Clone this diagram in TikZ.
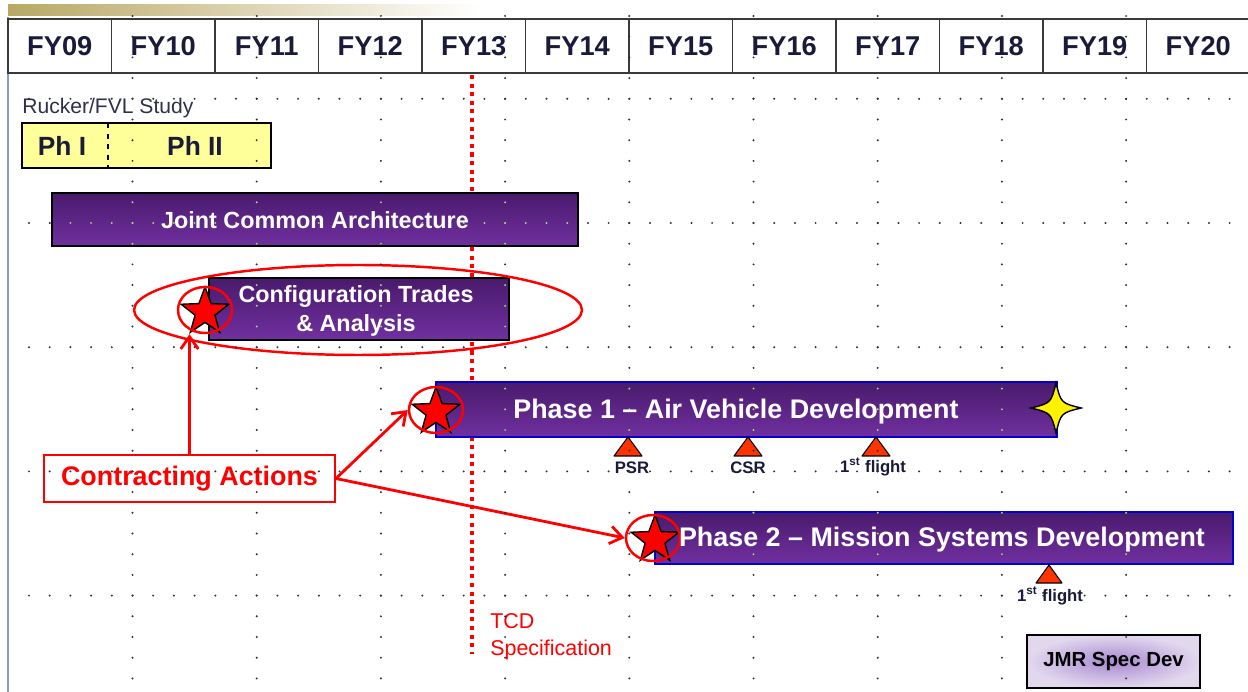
\documentclass[tikz,border=0pt]{standalone}
\usepackage{fontspec}
\setmainfont{Liberation Sans}
\usetikzlibrary{shapes.geometric,arrows.meta,shadings}

\definecolor{purpTop}{HTML}{4A1A6C}
\definecolor{purpBot}{HTML}{7030A0}
\definecolor{navy}{HTML}{1A1A3A}
\definecolor{khaki}{HTML}{B9A864}
\definecolor{leftline}{HTML}{8C9CC0}
\definecolor{triRed}{HTML}{FF3300}
\definecolor{jmrIn}{HTML}{A888D0}
\definecolor{jmrOut}{HTML}{E2D8EE}
\definecolor{hdrLine}{HTML}{3A3A3A}
\definecolor{gridDot}{HTML}{303030}
\definecolor{gridLight}{HTML}{A8D088}
\definecolor{ylw}{HTML}{FFFF99}
\definecolor{studyText}{HTML}{30304A}

\tikzset{
  hdrcell/.style={draw=hdrLine, line width=1.1pt, fill=white, minimum width=2.07cm, minimum height=1.08cm, inner sep=0,
    text=navy, font=\bfseries\fontsize{15.5}{18}\selectfont},
  bar/.style={draw=black, line width=0.8pt, top color=purpTop, bottom color=purpBot, inner sep=0},
  bluebar/.style={bar, draw=blue!85!black, line width=1pt},
  bartext/.style={text=white, font=\bfseries\fontsize{13.3}{16.5}\selectfont, align=center, inner sep=0},
  bigtext/.style={text=white, font=\bfseries\fontsize{15.3}{18}\selectfont, inner sep=0},
  redstar/.style={star, star points=5, star point ratio=2.4, minimum size=1.0cm, inner sep=0, fill=red, draw=black, line width=0.8pt},
  ring/.style={ellipse, draw=red, line width=1.4pt, minimum width=1.08cm, minimum height=0.92cm, inner sep=0},
  arr/.style={draw=red, line width=1.6pt, -{Straight Barb[length=7pt,width=10pt,line width=1.6pt]}},
  trishape/.style={fill=triRed, draw=black, line width=0.6pt, line join=round},
  mslabel/.style={text=navy, font=\bfseries\fontsize{9.5}{11}\selectfont, inner sep=0},
  tcdline/.style={draw=red, line width=2.2pt, dash pattern=on 2.3pt off 2.6pt},
}

\begin{document}
\begin{tikzpicture}[x=0.02cm,y=-0.02cm]
\useasboundingbox (0,0) rectangle (1248,692);
\fill[white] (0,0) rectangle (1248,692);

% top gradient band and left rule
\shade[left color=khaki, right color=white] (8,5) rectangle (480,16);
\draw[leftline, line width=1.1pt] (8,17) -- (8,692);

% header row
\foreach \i/\t in {0/FY09,1/FY10,2/FY11,3/FY12,4/FY13,5/FY14,6/FY15,7/FY16,8/FY17,9/FY18,10/FY19,11/FY20}
  \node[hdrcell] (h\i) at ({59.75+103.5*\i},46) {\t};

% Rucker / FVL study
\node[anchor=west, inner sep=0, text=studyText, font=\fontsize{12}{14}\selectfont] (rucker) at (22,108) {Rucker/FVL Study};
\node[draw=black, line width=1.1pt, fill=ylw, minimum width=4.98cm, minimum height=0.9cm, inner sep=0] (study) at (146.5,145.5) {};
\coordinate (divTop) at (108,123);
\coordinate (divBot) at (108,168);
\draw[black, line width=0.8pt, dashed] (divTop) -- (divBot);
\node[font=\bfseries\fontsize{15}{18}\selectfont, text=navy, inner sep=0] (ph1t) at (62,146) {Ph I};
\node[font=\bfseries\fontsize{15}{18}\selectfont, text=navy, inner sep=0] (ph2t) at (195,146) {Ph II};

% TCD line
\coordinate (tcdTop) at (472,75);
\coordinate (tcdBot) at (472,654);
\draw[tcdline] (tcdTop) -- (tcdBot);
\node[anchor=north west, align=left, text=red, inner sep=0, font=\fontsize{12.2}{15.3}\selectfont] (tcd) at (490,613) {TCD\\Specification};

% bars
\node[bar, minimum width=10.52cm, minimum height=1.06cm] (jca) at (315,219.5) {};
\node[bar, minimum width=6cm, minimum height=1.24cm] (cta) at (359,309) {};
\node[bluebar, minimum width=12.42cm, minimum height=1.1cm] (ph1) at (746.5,409.5) {};
\node[bluebar, minimum width=11.56cm, minimum height=1.04cm] (ph2) at (944,538) {};

% JMR spec box
\node[draw=black, line width=1.1pt, inner color=jmrIn, outer color=jmrOut, minimum width=3.46cm, minimum height=1.06cm, inner sep=0,
  font=\bfseries\fontsize{11.6}{14}\selectfont, text=black] (jmr) at (1113.5,661.5) {JMR Spec Dev};

% milestones
\foreach \x in {628,748,876}
  \draw[trishape] (\x,437) -- ++(14,19) -- ++(-28,0) -- cycle;
\draw[trishape] (1049,565) -- ++(13,18) -- ++(-26,0) -- cycle;
\node[mslabel] (psr) at (632,468) {PSR};
\node[mslabel] (csr) at (748,468) {CSR};
\node[mslabel] (ff1) at (873,467) {1\textsuperscript{st} flight};
\node[mslabel] (ff2) at (1050,596) {1\textsuperscript{st} flight};

% yellow four point star
\begin{scope}[shift={(1056,408)}]
  \draw[fill=yellow, draw=black, line width=0.8pt]
    (0,-25) .. controls (5,-5) .. (25,0) .. controls (5,5) .. (0,25)
    .. controls (-5,5) .. (-25,0) .. controls (-5,-5) .. cycle;
\end{scope}

% red stars and rings
\node[redstar] (s1) at (205,312) {};
\node[redstar] (s2) at (436,412) {};
\node[redstar] (s3) at (655,540) {};
\node[ring] (c1) at (205,310) {};
\node[ring] (c2) at (436,410) {};
\node[ring] (c3) at (653,538) {};
\node[ellipse, draw=red, line width=1.4pt, minimum width=8.96cm, minimum height=1.8cm, inner sep=0] (bigell) at (358,310) {};

% contracting actions
\node[draw=red, line width=1.1pt, fill=white, minimum width=5.82cm, minimum height=0.94cm, inner sep=0,
  text=red, font=\bfseries\fontsize{15.3}{18}\selectfont] (ca) at (189.5,478.5) {\raisebox{-2.5pt}{Contracting Actions}};
\draw[arr] (ca.north) -- (ca.north |- c1.south);
\draw[arr] (ca.east) -- (c2.west);
\draw[arr] (ca.east) -- (c3.west);

% grid of dots (dark)
\foreach \i in {0,...,58}
  \foreach \j in {4,10,16,22,28}
    \fill[gridDot] ({29+20.7*\i},{16+20.7*\j}) circle (1.1);
\foreach \i in {5,11,...,53}
  \foreach \j in {0,...,32}
    \fill[gridDot] ({29+20.7*\i},{16+20.7*\j}) circle (1.1);
% grid of dots over the purple bars (light)
\begin{scope}
  \clip (jca.south west) rectangle (jca.north east)
        (cta.south west) rectangle (cta.north east)
        (ph1.south west) rectangle (ph1.north east)
        (ph2.south west) rectangle (ph2.north east);
  \foreach \i in {0,...,58}
    \foreach \j in {4,10,16,22,28}
      \fill[gridLight] ({29+20.7*\i},{16+20.7*\j}) circle (1.1);
  \foreach \i in {5,11,...,53}
    \foreach \j in {0,...,32}
      \fill[gridLight] ({29+20.7*\i},{16+20.7*\j}) circle (1.1);
\end{scope}

% bar texts
\node[bartext] (jcat) at (315,220) {Joint Common Architecture};
\node[bartext] (ctat) at (356,311) {Configuration Trades\\\& Analysis};
\node[bigtext] (ph1txt) at (736,412) {Phase 1 -- Air Vehicle Development};
\node[bigtext] (ph2txt) at (942,540) {Phase 2 -- Mission Systems Development};
\end{tikzpicture}
\end{document}
